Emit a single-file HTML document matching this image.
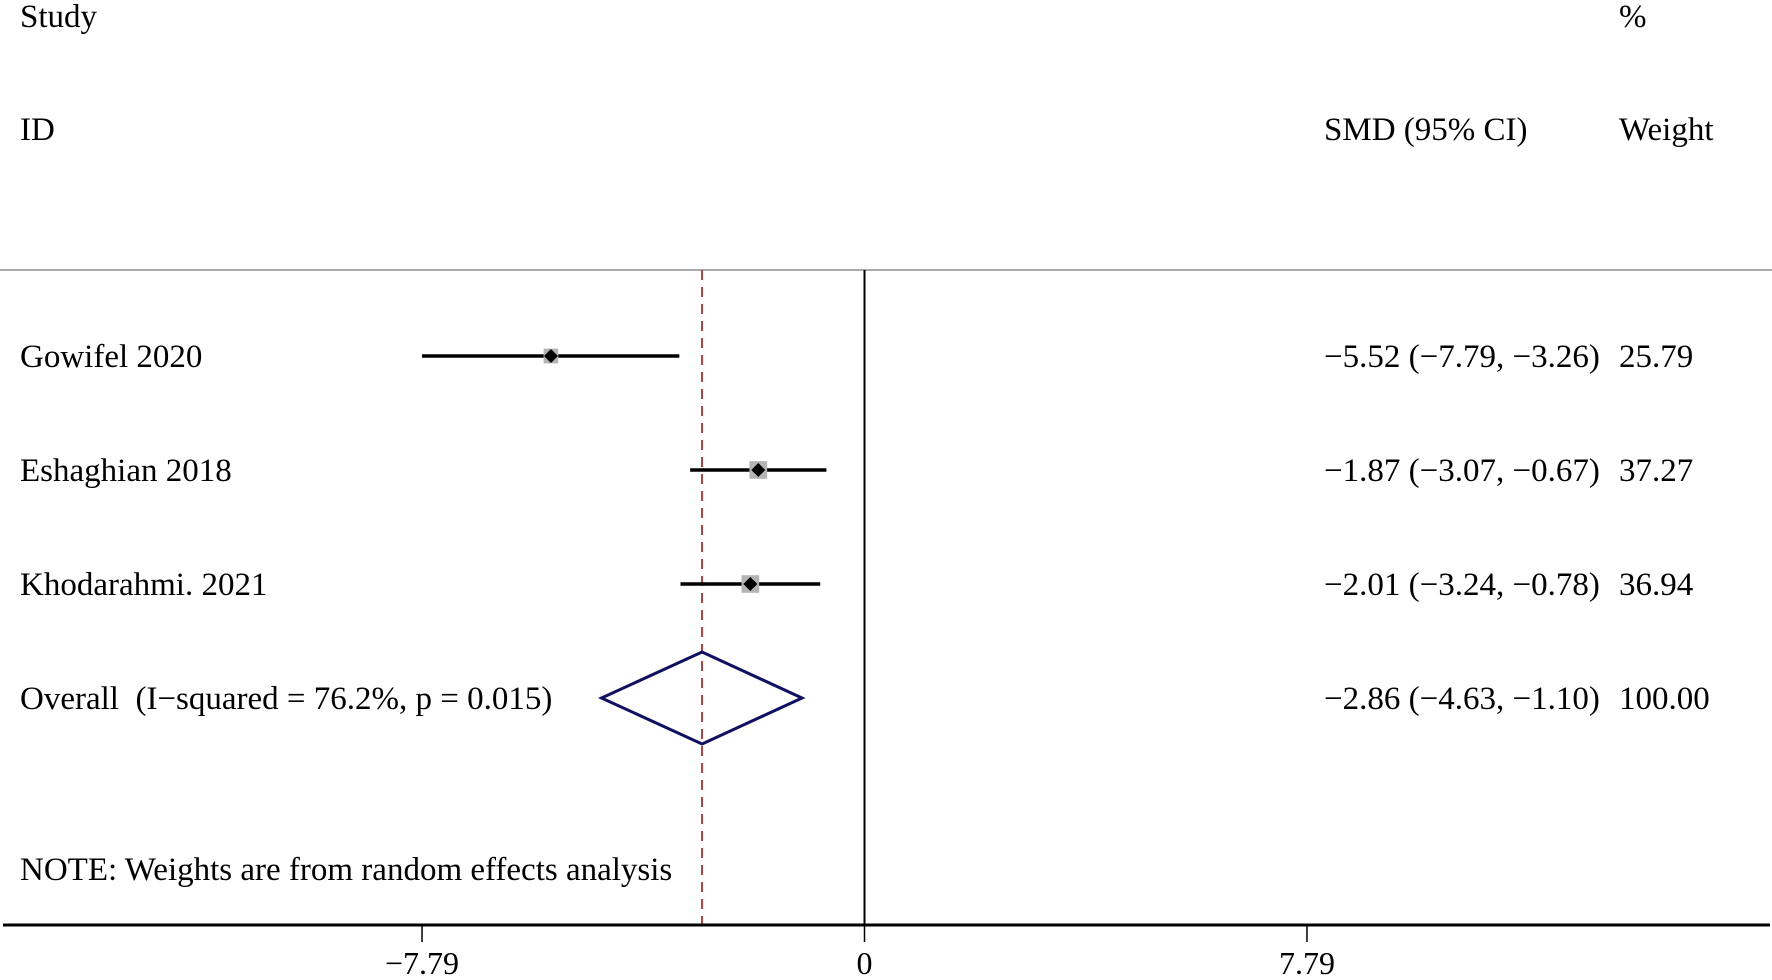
<!DOCTYPE html>
<html><head><meta charset="utf-8"><style>
html,body{margin:0;padding:0;background:#fff;}
svg text{font-family:"Liberation Serif",serif;fill:#000;}
</style></head><body>
<svg id="chart" width="1772" height="975" viewBox="0 0 1772 975" xmlns="http://www.w3.org/2000/svg">
<g id="g" font-size="33"></g>
</svg>
<script>
const studies = ["Gowifel 2020","Eshaghian 2018","Khodarahmi. 2021"];
const smd = [-5.52,-1.87,-2.01];
const lo = [-7.79,-3.07,-3.24];
const hi = [-3.26,-0.67,-0.78];
const weights = [25.79,37.27,36.94];
const overall = [-2.86,-4.63,-1.10];
const overallLabel = "Overall\u00a0\u00a0(I\u2212squared = 76.2%, p = 0.015)";
const ticks = [-7.79,0,7.79];

const NS="http://www.w3.org/2000/svg";
const g=document.getElementById('g');
const X=v=>864.5+v*56.8;
const rowY=i=>356+i*114;
function el(t,a,p){const e=document.createElementNS(NS,t);for(const k in a)e.setAttribute(k,a[k]);(p||g).appendChild(e);return e;}
function txt(s,x,y,extra){const e=el('text',Object.assign({x:x,y:y},extra||{}));e.textContent=s;return e;}
const fmt=v=>(v<0?'\u2212':'')+Math.abs(v).toFixed(2);

let e;
e=txt("Study",20,27);

e=txt("ID",20,140);

e=txt("%",1619,27);

e=txt("SMD (95% CI)",1324,140);

e=txt("Weight",1619,140);


e=el('line',{x1:0,x2:1772,y1:270,y2:270,stroke:'#aaa','stroke-width':2});

e=el('line',{x1:X(0),x2:X(0),y1:270,y2:925,stroke:'#000','stroke-width':2});

e=el('line',{x1:X(overall[0]),x2:X(overall[0]),y1:270,y2:925,stroke:'#a04848','stroke-width':2,'stroke-dasharray':'10,7'});

e=el('line',{x1:3,x2:1770,y1:925,y2:925,stroke:'#000','stroke-width':3});


ticks.forEach(t=>{
  let a=el('line',{x1:X(t),x2:X(t),y1:925,y2:942,stroke:'#000','stroke-width':1.5});
  
  let b=txt(t===0?'0':fmt(t),X(t),974,{'text-anchor':'middle','font-size':32});
  
});

studies.forEach((s,i)=>{
  const y=rowY(i);
  let a=txt(s,20,y+11);
  
  let l=el('line',{x1:X(lo[i]),x2:X(hi[i]),y1:y,y2:y,stroke:'#000','stroke-width':3.5});
  
  const sz=Math.sqrt(weights[i])*2.9;
  let r=el('rect',{x:X(smd[i])-sz/2,y:y-sz/2,width:sz,height:sz,fill:'#b4b4b4'});
  
  const cx=X(smd[i]),d=7;
  let p=el('polygon',{points:`${cx-d},${y} ${cx},${y-d} ${cx+d},${y} ${cx},${y+d}`,fill:'#000'});
  
  let c=txt(`${fmt(smd[i])} (${fmt(lo[i])}, ${fmt(hi[i])})`,1324,y+11);
  
  let w=txt(weights[i].toFixed(2),1619,y+11);
  
});

const oy=rowY(3);
e=txt(overallLabel,20,oy+11);

e=el('polygon',{points:`${X(overall[1])},${oy} ${X(overall[0])},${oy-46} ${X(overall[2])},${oy} ${X(overall[0])},${oy+46}`,fill:'none',stroke:'#101060','stroke-width':3});

e=txt(`${fmt(overall[0])} (${fmt(overall[1])}, ${fmt(overall[2])})`,1324,oy+11);

e=txt("100.00",1619,oy+11);

e=txt("NOTE: Weights are from random effects analysis",20,880);

</script>
</body></html>
